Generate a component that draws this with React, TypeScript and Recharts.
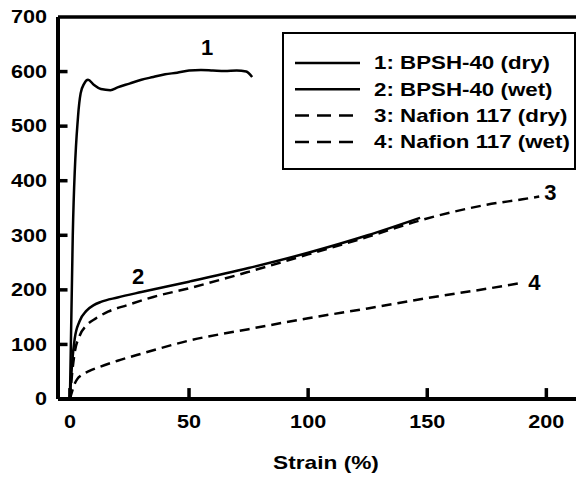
import React from 'react'
import { LineChart, Line, XAxis, YAxis, ReferenceLine, ReferenceDot, Legend } from 'recharts'

// strain (%) vs stress
const bpshDry = [
  { x: 0, y: 0 }, { x: 1.2, y: 300 }, { x: 3.4, y: 517 }, { x: 4.5, y: 560 }, { x: 6, y: 578 },
  { x: 7.6, y: 585 }, { x: 10, y: 576 }, { x: 13, y: 568 }, { x: 17, y: 566 }, { x: 20, y: 571 },
  { x: 25, y: 578 }, { x: 30, y: 585 }, { x: 35, y: 590 }, { x: 40, y: 595 }, { x: 45, y: 598 },
  { x: 50, y: 602 }, { x: 55, y: 603 }, { x: 60, y: 602 }, { x: 65, y: 601 }, { x: 70, y: 602 },
  { x: 74, y: 600 }, { x: 76.5, y: 590 },
]
const bpshWet = [
  { x: 0, y: 0 }, { x: 1, y: 70 }, { x: 2, y: 110 }, { x: 4, y: 142 }, { x: 7, y: 162 },
  { x: 10, y: 172 }, { x: 13, y: 178 }, { x: 20, y: 186 }, { x: 30, y: 196 }, { x: 50, y: 215 },
  { x: 75, y: 240 }, { x: 100, y: 268 }, { x: 125, y: 300 }, { x: 147, y: 332 },
]
const nafionDry = [
  { x: 0, y: 0 }, { x: 1, y: 50 }, { x: 2, y: 85 }, { x: 4, y: 115 }, { x: 7, y: 135 },
  { x: 11, y: 148 }, { x: 16, y: 160 }, { x: 24, y: 172 }, { x: 35, y: 187 }, { x: 50, y: 203 },
  { x: 75, y: 233 }, { x: 100, y: 265 }, { x: 125, y: 297 }, { x: 146, y: 326 }, { x: 160, y: 342 },
  { x: 175, y: 356 }, { x: 190, y: 366 }, { x: 197, y: 371 },
]
const nafionWet = [
  { x: 0, y: 0 }, { x: 1, y: 15 }, { x: 2, y: 28 }, { x: 3, y: 36 }, { x: 5, y: 44 },
  { x: 8, y: 51 }, { x: 12, y: 58 }, { x: 20, y: 70 }, { x: 30, y: 83 }, { x: 50, y: 107 },
  { x: 75, y: 128 }, { x: 100, y: 148 }, { x: 125, y: 166 }, { x: 150, y: 185 }, { x: 175, y: 202 },
  { x: 190, y: 213 },
]

const xTicks = [0, 50, 100, 150, 200]
const yTicks = [0, 100, 200, 300, 400, 500, 600, 700]
const X_MIN = -5
const X_MAX = 220

const curveTags = [
  { x: 57.6, y: 645, text: '1' },
  { x: 28.6, y: 225, text: '2' },
  { x: 201.7, y: 379, text: '3' },
  { x: 195, y: 214, text: '4' },
]

const FONT = '"Liberation Sans", Arial, sans-serif'
const SX = 1.2 // the original figure is stretched sideways

const XTick = (props: any) => {
  const { x, y, payload } = props
  return (
    <text transform={`translate(${x},${y}) scale(${SX},1)`} textAnchor="middle" dy="0.71em"
      fontSize={18} fontWeight="bold" fontFamily={FONT} fill="#000">{payload.value}</text>
  )
}

const YTick = (props: any) => {
  const { x, y, payload } = props
  return (
    <text transform={`translate(${x},${y}) scale(${SX},1)`} textAnchor="end" dy="0.35em"
      fontSize={18} fontWeight="bold" fontFamily={FONT} fill="#000">{payload.value}</text>
  )
}

const renderLegend = ({ payload }: any) => (
  <svg width={294} height={138} style={{ display: 'block' }}>
    <rect x={1} y={1} width={292} height={136} fill="#fff" stroke="#000" strokeWidth={2} />
    {(payload || []).map((entry: any, i: number) => {
      const cy = 31 + i * 26.3
      return (
        <g key={entry.value}>
          <line x1={13} x2={78} y1={cy} y2={cy} stroke="#000" strokeWidth={2.5}
            strokeDasharray={entry.payload?.strokeDasharray ? '14 8' : undefined} />
          <text transform={`translate(92,${cy}) scale(1.24,1)`} dy="0.35em" fontSize={18}
            fontWeight="bold" fontFamily={FONT} fill="#000">{entry.value}</text>
        </g>
      )
    })}
  </svg>
)

export default function App() {
  return (
    <div style={{ position: 'absolute', left: 0, top: 0, width: 576, height: 478, overflow: 'hidden', background: '#fff' }}>
      <LineChart width={620} height={478} margin={{ top: 17, right: 26, left: 0, bottom: 0 }}>
        <XAxis
          type="number"
          dataKey="x"
          domain={[X_MIN, X_MAX]}
          ticks={xTicks}
          height={79}
          axisLine={{ stroke: '#000', strokeWidth: 4 }}
          tickLine={false}
          tickSize={0}
          tickMargin={16}
          tick={<XTick />}
          label={({ viewBox }: any) => (
            <text transform={`translate(${viewBox.x + viewBox.width / 2},${viewBox.y + 70}) scale(1.26,1)`}
              textAnchor="middle" fontSize={18} fontWeight="bold" fontFamily={FONT} fill="#000">Strain (%)</text>
          )}
        />
        <YAxis
          type="number"
          domain={[0, 700]}
          ticks={yTicks}
          width={58}
          axisLine={{ stroke: '#000', strokeWidth: 4 }}
          tickLine={false}
          tickSize={0}
          tickMargin={11}
          tick={<YTick />}
        />
        <ReferenceLine y={700} stroke="#000" strokeWidth={3.5} />
        {/* inward tick marks */}
        {xTicks.map((t) => (
          <ReferenceLine key={`xt${t}`} segment={[{ x: t, y: 0 }, { x: t, y: 20 }]} stroke="#000" strokeWidth={3.5} ifOverflow="visible" />
        ))}
        {yTicks.slice(1, -1).map((t) => (
          <ReferenceLine key={`yt${t}`} segment={[{ x: X_MIN, y: t }, { x: X_MIN + 4, y: t }]} stroke="#000" strokeWidth={3.5} ifOverflow="visible" />
        ))}
        <Legend
          layout="vertical"
          align="center"
          verticalAlign="middle"
          content={renderLegend}
          wrapperStyle={{ position: 'absolute', left: 282, top: 32, width: 294, height: 138 }}
        />
        <Line data={bpshDry} dataKey="y" name="1: BPSH-40 (dry)" type="monotone" stroke="#000" strokeWidth={2.5} dot={false} isAnimationActive={false} />
        <Line data={bpshWet} dataKey="y" name="2: BPSH-40 (wet)" type="monotone" stroke="#000" strokeWidth={2.5} dot={false} isAnimationActive={false} />
        <Line data={nafionDry} dataKey="y" name="3: Nafion 117 (dry)" type="monotone" stroke="#000" strokeWidth={2.5} strokeDasharray="10 6" dot={false} isAnimationActive={false} />
        <Line data={nafionWet} dataKey="y" name="4: Nafion 117 (wet)" type="monotone" stroke="#000" strokeWidth={2.5} strokeDasharray="10 6" dot={false} isAnimationActive={false} />
        {curveTags.map((t) => (
          <ReferenceDot key={t.text} x={t.x} y={t.y} r={0} fill="none" stroke="none"
            label={{ value: t.text, position: 'center', fontSize: 22, fontWeight: 'bold', fontFamily: FONT, fill: '#000' }} />
        ))}
      </LineChart>
    </div>
  )
}
